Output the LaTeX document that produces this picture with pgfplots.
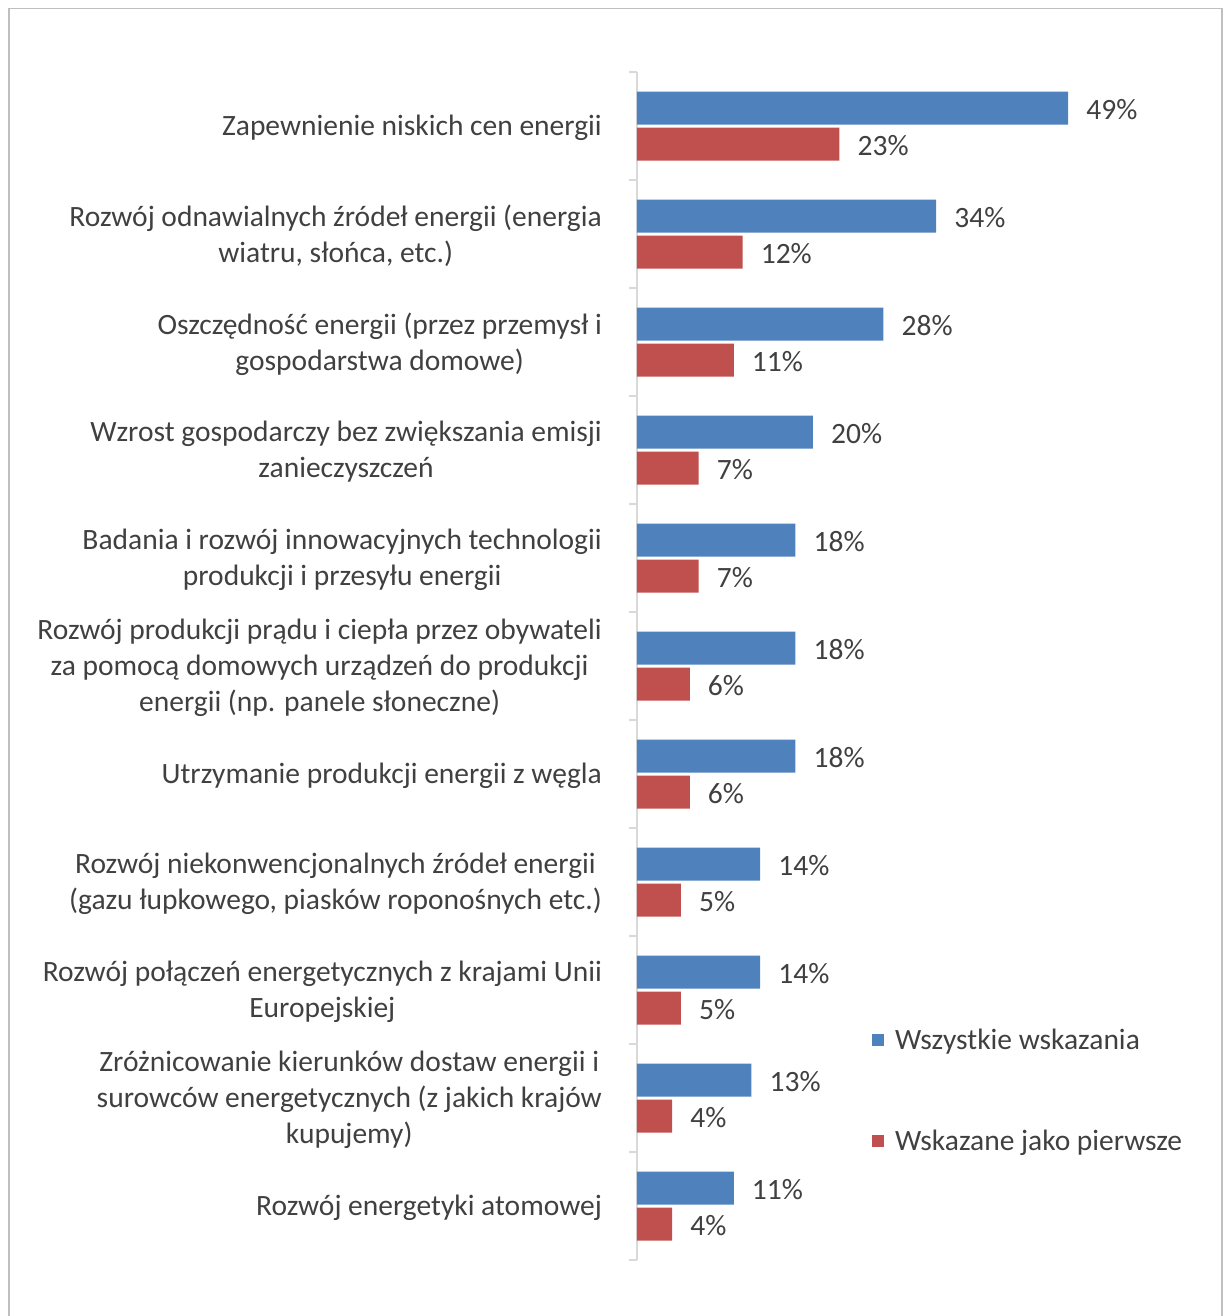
\documentclass[border=0pt]{standalone}
\usepackage{pgfplots}
\pgfplotsset{compat=1.18}
\usepackage{pgfplotstable}
\usetikzlibrary{calc}
\usepackage{fontspec}
\setmainfont{Carlito}
\definecolor{cblue}{HTML}{4F81BD}
\definecolor{cred}{HTML}{C0504D}
\definecolor{ctext}{HTML}{404040}
\definecolor{cgrid}{HTML}{D9D9D9}
\definecolor{cframe}{HTML}{BFBFBF}

\pgfplotstableread{
idx all first
0 49 23
1 34 12
2 28 11
3 20 7
4 18 7
5 18 6
6 18 6
7 14 5
8 14 5
9 13 4
10 11 4
}\data

\newcommand{\lf}{\fontsize{29.5}{36}\selectfont}

\begin{document}
\begin{tikzpicture}
\begin{axis}[
  name=ax,
  width=528pt, height=1188pt, scale only axis,
  xbar, bar width=33pt,
  xmin=0, xmax=60,
  ymin=-0.5, ymax=10.5, y dir=reverse,
  hide x axis,
  axis y line*=left,
  axis line style={draw=cgrid, line width=1.5pt},
  ytick={0,...,10},
  yticklabels={
    {Zapewnienie niskich cen energii},
    {Rozwój odnawialnych źródeł energii (energia\\wiatru, słońca, etc.)},
    {Oszczędność energii (przez przemysł i\\gospodarstwa domowe)},
    {Wzrost gospodarczy bez zwiększania emisji\\zanieczyszczeń},
    {Badania i rozwój innowacyjnych technologii\\produkcji i przesyłu energii},
    {Rozwój produkcji prądu i ciepła przez obywateli\\za pomocą domowych urządzeń do produkcji\\energii (np. panele słoneczne)},
    {Utrzymanie produkcji energii z węgla},
    {Rozwój niekonwencjonalnych źródeł energii\\(gazu łupkowego, piasków roponośnych etc.)},
    {Rozwój połączeń energetycznych z krajami Unii\\Europejskiej},
    {Zróżnicowanie kierunków dostaw energii i\\surowców energetycznych (z jakich krajów\\kupujemy)},
    {Rozwój energetyki atomowej}
  },
  major tick length=0pt,
  minor ytick={-0.5,0.5,...,10.5},
  minor tick length=8pt,
  tick align=outside,
  minor tick style={draw=cgrid, line width=1.5pt},
  y tick label style={align=center, font=\lf, text=ctext, inner sep=0pt, xshift=-35pt, yshift=-2pt},
  point meta=x,
  nodes near coords={\pgfmathprintnumber{\pgfplotspointmeta}\%},
  nodes near coords style={font=\lf, text=ctext, anchor=west, inner sep=0pt, xshift=18pt, yshift=-1.5pt},
  /pgf/number format/assume math mode=true,
  legend style={at={(0.4451,0.195)}, anchor=north west, draw=none, fill=none,
    font=\lf, text=ctext, row sep=79pt, column sep=11pt, inner sep=0pt,
    nodes={inner sep=0pt}},
  legend cell align=left,
  clip=false,
]
\addplot[fill=cblue, draw=none, bar shift=18pt,
  legend image code/.code={\fill[cblue] (0pt,-6pt) rectangle (12pt,6pt);}]
  table[x=all, y=idx]{\data};
\addlegendentry{Wszystkie wskazania}
\addplot[fill=cred, draw=none, bar shift=-18pt,
  legend image code/.code={\fill[cred] (0pt,-6pt) rectangle (12pt,6pt);}]
  table[x=first, y=idx]{\data};
\addlegendentry{Wskazane jako pierwsze}
\end{axis}
\coordinate (TL) at ($(ax.south west)+(-637pt,1260pt)$);
\draw[cframe, line width=1.5pt] ($(TL)+(9pt,-8.5pt)$) rectangle ($(TL)+(1222pt,-1340pt)$);
\pgfresetboundingbox
\useasboundingbox (TL) rectangle ($(TL)+(1223pt,-1316pt)$);
\end{tikzpicture}
\end{document}
